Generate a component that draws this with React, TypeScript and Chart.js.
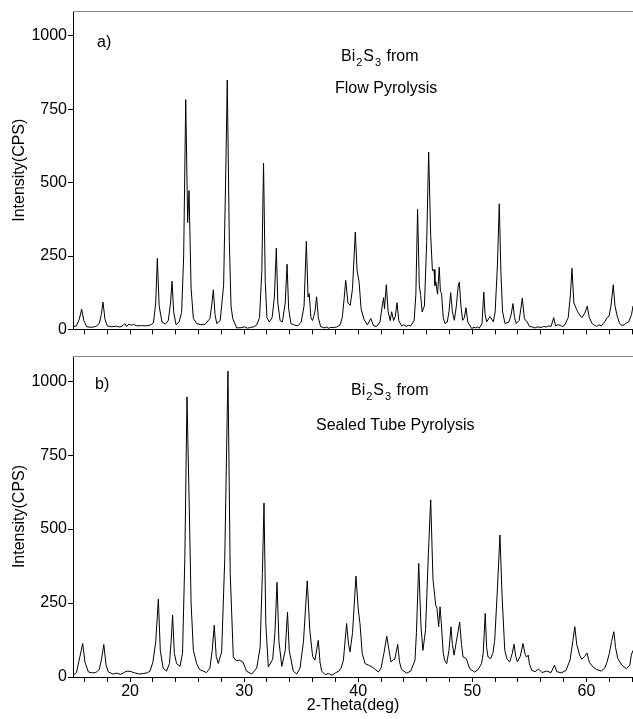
import React, { useEffect, useRef } from 'react';
import { Chart, registerables } from 'chart.js';

Chart.register(...registerables);

// ---------- data ----------
const X_MIN = 15;
const X_MAX = 64.08;
const Y_MAX = 1085;
const xTickValues = [16, 18, 20, 22, 24, 26, 28, 30, 32, 34, 36, 38, 40, 42, 44, 46, 48, 50, 52, 54, 56, 58, 60, 62, 64];
const xLabelledTicks = [20, 30, 40, 50, 60];
const yTickValues = [0, 250, 500, 750, 1000];

// a) Flow pyrolysis
const flowTheta = [
  15.0, 15.3, 15.55, 15.76, 15.95, 16.2, 16.6, 17.0, 17.3, 17.48, 17.63, 17.8, 18.0, 18.4, 18.8, 19.1, 19.4, 19.55, 19.7, 19.9,
  20.1, 20.3, 20.6, 21.0, 21.4, 21.8, 22.05, 22.25, 22.39, 22.55, 22.8, 23.1, 23.35, 23.55, 23.68, 23.82, 24.03, 24.3, 24.52, 24.7,
  24.88, 25.05, 25.17, 25.35, 25.55, 25.84, 26.2, 26.6, 27.0, 27.15, 27.3, 27.45, 27.6, 27.9, 28.2, 28.4, 28.52, 28.7, 28.85, 29.0,
  29.35, 29.8, 30.05, 30.3, 30.55, 30.8, 31.1, 31.35, 31.55, 31.7, 31.85, 32.0, 32.2, 32.45, 32.65, 32.82, 32.95, 33.15, 33.35, 33.6,
  33.76, 33.9, 34.1, 34.4, 34.7, 35.0, 35.25, 35.45, 35.6, 35.7, 35.85, 36.0, 36.2, 36.35, 36.5, 36.7, 37.0, 37.2, 37.4, 37.6,
  37.8, 38.1, 38.4, 38.6, 38.75, 38.9, 39.1, 39.3, 39.5, 39.74, 39.9, 40.07, 40.25, 40.5, 40.8, 41.1, 41.35, 41.6, 41.9, 42.1,
  42.22, 42.3, 42.46, 42.62, 42.8, 42.93, 43.1, 43.25, 43.4, 43.55, 43.8, 44.0, 44.2, 44.4, 44.6, 44.9, 45.05, 45.2, 45.35, 45.47,
  45.6, 45.8, 46.0, 46.17, 46.35, 46.5, 46.64, 46.72, 46.8, 46.95, 47.1, 47.2, 47.3, 47.45, 47.6, 47.8, 47.95, 48.1, 48.25, 48.42,
  48.6, 48.75, 48.86, 49.0, 49.15, 49.3, 49.44, 49.6, 49.94, 50.15, 50.3, 50.45, 50.6, 50.85, 51.0, 51.12, 51.26, 51.55, 51.84, 52.0,
  52.2, 52.36, 52.5, 52.65, 52.86, 53.2, 53.4, 53.56, 53.7, 53.85, 54.1, 54.25, 54.38, 54.55, 54.65, 54.8, 55.0, 55.3, 55.5, 55.75,
  56.0, 56.25, 56.5, 56.7, 56.9, 57.13, 57.3, 57.5, 57.7, 57.9, 58.1, 58.4, 58.6, 58.73, 58.9, 59.14, 59.3, 59.6, 59.85, 60.07,
  60.25, 60.5, 60.7, 60.9, 61.1, 61.3, 61.6, 61.8, 61.98, 62.15, 62.35, 62.5, 62.7, 62.9, 63.1, 63.3, 63.5, 63.7, 63.95, 64.08,
];
const flowCps = [
  9, 12, 35, 69, 30, 9, 7, 10, 20, 50, 93, 35, 12, 9, 11, 8, 14, 20, 10, 18,
  14, 17, 12, 13, 12, 15, 22, 90, 242, 80, 25, 18, 30, 90, 164, 60, 16, 25, 58, 250,
  783, 364, 473, 140, 37, 20, 16, 18, 37, 80, 135, 50, 20, 30, 150, 560, 850, 300, 80, 37,
  5, 6, 9, 4, 7, 8, 15, 40, 200, 567, 160, 40, 25, 40, 110, 277, 90, 30, 25, 90,
  222, 70, 20, 15, 12, 25, 80, 300, 110, 122, 40, 30, 60, 111, 40, 10, 5, 8, 4, 7,
  6, 8, 15, 40, 100, 167, 90, 82, 140, 332, 200, 163, 70, 35, 15, 37, 12, 10, 25, 80,
  108, 70, 152, 60, 30, 60, 30, 45, 91, 30, 12, 16, 10, 14, 12, 30, 120, 409, 150, 116,
  60, 80, 300, 604, 320, 200, 204, 150, 162, 120, 212, 130, 122, 40, 20, 25, 60, 125, 60, 31,
  80, 145, 161, 80, 31, 40, 74, 25, 3, 7, 5, 8, 4, 20, 127, 50, 26, 44, 26, 60,
  220, 428, 200, 60, 20, 25, 50, 88, 40, 20, 30, 70, 107, 40, 31, 26, 10, 8, 5, 9,
  6, 10, 8, 12, 10, 40, 12, 16, 14, 10, 15, 40, 120, 208, 90, 68, 55, 40, 55, 79,
  40, 20, 14, 10, 16, 12, 26, 40, 45, 80, 152, 80, 45, 20, 14, 15, 22, 26, 50, 80,
];

// b) Sealed tube pyrolysis
const sealedTheta = [
  15.0, 15.3, 15.6, 15.85, 16.05, 16.35, 16.7, 17.0, 17.3, 17.5, 17.7, 17.9, 18.1, 18.5, 18.8, 19.2, 19.5, 19.8, 20.1, 20.4,
  20.8, 21.2, 21.5, 21.75, 22.0, 22.25, 22.48, 22.65, 22.9, 23.2, 23.45, 23.6, 23.73, 23.88, 24.08, 24.38, 24.6, 24.8, 24.99, 25.19,
  25.35, 25.55, 25.84, 26.1, 26.4, 26.7, 27.0, 27.2, 27.38, 27.55, 27.73, 28.03, 28.3, 28.58, 28.78, 29.05, 29.3, 29.6, 29.9, 30.2,
  30.66, 31.1, 31.4, 31.6, 31.74, 31.9, 32.12, 32.5, 32.7, 32.88, 33.05, 33.3, 33.6, 33.8, 33.95, 34.3, 34.6, 34.9, 35.2, 35.53,
  35.75, 36.0, 36.2, 36.5, 36.65, 36.79, 37.1, 37.4, 37.7, 38.0, 38.3, 38.5, 38.7, 38.98, 39.15, 39.28, 39.5, 39.8, 40.0, 40.15,
  40.35, 40.6, 40.9, 41.2, 41.5, 41.76, 42.0, 42.25, 42.5, 42.7, 42.87, 43.05, 43.2, 43.46, 43.62, 43.8, 44.24, 44.6, 44.97, 45.1,
  45.3, 45.5, 45.67, 45.9, 46.15, 46.35, 46.55, 46.79, 46.9, 47.05, 47.17, 47.28, 47.45, 47.57, 47.75, 47.95, 48.13, 48.25, 48.4, 48.6,
  48.89, 49.05, 49.18, 49.35, 49.47, 49.77, 50.2, 50.5, 50.8, 50.95, 51.13, 51.25, 51.37, 51.6, 51.8, 51.96, 52.2, 52.42, 52.6, 52.84,
  53.05, 53.27, 53.5, 53.65, 53.8, 53.95, 54.2, 54.44, 54.6, 54.75, 54.9, 55.0, 55.2, 55.5, 55.8, 56.1, 56.5, 56.9, 57.2, 57.4,
  57.8, 58.2, 58.56, 58.8, 58.98, 59.15, 59.4, 59.6, 59.85, 60.05, 60.25, 60.57, 60.9, 61.3, 61.6, 61.8, 62.0, 62.2, 62.4, 62.55,
  62.75, 63.1, 63.5, 63.8, 63.93, 64.08,
];
const sealedCps = [
  6, 15, 68, 113, 50, 17, 14, 15, 25, 60, 110, 40, 17, 10, 13, 9, 16, 20, 18, 14,
  10, 12, 14, 20, 50, 118, 263, 90, 30, 20, 45, 120, 209, 80, 45, 36, 80, 400, 947, 571,
  250, 90, 45, 25, 20, 15, 30, 90, 175, 70, 46, 85, 400, 1034, 350, 68, 55, 57, 50, 20,
  10, 30, 100, 350, 588, 180, 34, 60, 150, 320, 120, 36, 90, 219, 90, 20, 10, 30, 120, 325,
  160, 70, 57, 124, 50, 20, 8, 12, 6, 14, 20, 30, 57, 181, 110, 85, 150, 341, 230, 181,
  80, 45, 40, 34, 25, 17, 30, 80, 138, 90, 51, 58, 60, 110, 50, 25, 13, 20, 56, 150,
  384, 170, 90, 160, 420, 599, 330, 243, 232, 170, 237, 181, 80, 57, 45, 90, 170, 110, 74, 120,
  186, 110, 68, 65, 62, 28, 17, 25, 45, 79, 215, 100, 68, 62, 80, 124, 300, 480, 280, 90,
  60, 51, 80, 111, 70, 51, 70, 113, 80, 67, 74, 45, 23, 18, 27, 15, 20, 15, 40, 18,
  14, 22, 57, 120, 170, 110, 74, 60, 70, 81, 50, 34, 25, 20, 30, 50, 79, 120, 153, 100,
  62, 40, 28, 40, 74, 90,
];

// ---------- drawing ----------
const FONT_FAMILY = '"Liberation Sans", Arial, Helvetica, sans-serif';

type TextItem = { parts: { t: string; sub?: boolean }[]; x: number; y: number };

function makeTextPlugin(items: TextItem[]) {
  return {
    id: 'panelText',
    afterDraw(chart: any) {
      const ctx = chart.ctx as CanvasRenderingContext2D;
      const area = chart.chartArea;
      ctx.save();
      // top frame line
      ctx.strokeStyle = '#8a8a8a';
      ctx.lineWidth = 1;
      ctx.beginPath();
      ctx.moveTo(area.left, Math.round(area.top) + 0.5);
      ctx.lineTo(chart.width, Math.round(area.top) + 0.5);
      ctx.stroke();
      ctx.fillStyle = '#000';
      ctx.textBaseline = 'alphabetic';
      ctx.textAlign = 'left';
      for (const it of items) {
        let x = it.x;
        for (const p of it.parts) {
          if (p.sub) {
            ctx.font = `11px ${FONT_FAMILY}`;
            x += 1;
            ctx.fillText(p.t, x, it.y + 5);
            x += ctx.measureText(p.t).width + 1;
          } else {
            ctx.font = `16px ${FONT_FAMILY}`;
            ctx.fillText(p.t, x, it.y);
            x += ctx.measureText(p.t).width;
          }
        }
      }
      ctx.restore();
    },
  };
}

function makeConfig(theta: number[], cps: number[], bottom: boolean, items: TextItem[]): any {
  const pts = theta.map((t, i) => ({ x: t, y: cps[i] }));
  return {
    type: 'line',
    data: {
      datasets: [
        {
          data: pts,
          borderColor: '#000',
          borderWidth: 1,
          pointRadius: 0,
          tension: 0,
          fill: false,
        },
      ],
    },
    options: {
      animation: false,
      responsive: false,
      maintainAspectRatio: false,
      events: [],
      layout: { padding: { top: bottom ? 16 : 11, left: 0, right: 0, bottom: 0 } },
      plugins: { legend: { display: false }, tooltip: { enabled: false }, title: { display: false } },
      scales: {
        x: {
          type: 'linear',
          min: X_MIN,
          max: X_MAX,
          afterBuildTicks: (scale: any) => {
            scale.ticks = xTickValues.map((v) => ({ value: v }));
          },
          afterFit: (scale: any) => {
            scale.height = bottom ? 42 : 9;
          },
          border: { display: true, color: '#000', width: 1 },
          grid: { drawOnChartArea: false, drawTicks: true, tickLength: 5, color: '#000' },
          ticks: {
            autoSkip: false,
            maxRotation: 0,
            padding: 0,
            color: '#000',
            font: { family: FONT_FAMILY, size: 16 },
            callback: (v: number) => (bottom && xLabelledTicks.includes(v) ? String(v) : ''),
          },
          title: {
            display: bottom,
            text: '2-Theta(deg)',
            color: '#000',
            font: { family: FONT_FAMILY, size: 16 },
            padding: { top: 0, bottom: 4 },
          },
        },
        y: {
          type: 'linear',
          min: 0,
          max: Y_MAX,
          afterBuildTicks: (scale: any) => {
            scale.ticks = yTickValues.map((v) => ({ value: v }));
          },
          afterFit: (scale: any) => {
            scale.width = 73;
          },
          border: { display: true, color: '#000', width: 1 },
          grid: { drawOnChartArea: false, drawTicks: true, tickLength: 5, color: '#000' },
          ticks: {
            padding: 1,
            color: '#000',
            font: { family: FONT_FAMILY, size: 16 },
            callback: (v: number) => String(v),
          },
          title: {
            display: true,
            text: 'Intensity(CPS)',
            color: '#000',
            font: { family: FONT_FAMILY, size: 16 },
            padding: { top: 10, bottom: 0 },
          },
        },
      },
    },
    plugins: [makeTextPlugin(items)],
  };
}

const topTexts: TextItem[] = [
  { parts: [{ t: 'a)' }], x: 97, y: 47 },
  { parts: [{ t: 'Bi' }, { t: '2', sub: true }, { t: 'S' }, { t: '3', sub: true }, { t: ' from' }], x: 341, y: 61 },
  { parts: [{ t: 'Flow Pyrolysis' }], x: 335, y: 93 },
];
const bottomTexts: TextItem[] = [
  { parts: [{ t: 'b)' }], x: 95, y: 49 },
  { parts: [{ t: 'Bi' }, { t: '2', sub: true }, { t: 'S' }, { t: '3', sub: true }, { t: ' from' }], x: 351, y: 55 },
  { parts: [{ t: 'Sealed Tube Pyrolysis' }], x: 316, y: 90 },
];

export default function App() {
  const topRef = useRef<HTMLCanvasElement | null>(null);
  const botRef = useRef<HTMLCanvasElement | null>(null);

  useEffect(() => {
    if (!topRef.current || !botRef.current) return;
    const c1 = new Chart(topRef.current, makeConfig(flowTheta, flowCps, false, topTexts));
    const c2 = new Chart(botRef.current, makeConfig(sealedTheta, sealedCps, true, bottomTexts));
    return () => {
      c1.destroy();
      c2.destroy();
    };
  }, []);

  return (
    <div style={{ position: 'absolute', left: 0, top: 0, width: 633, height: 719, background: '#fff', overflow: 'hidden' }}>
      <canvas ref={topRef} width={633} height={340} style={{ position: 'absolute', left: 0, top: 0, width: 633, height: 340 }} />
      <canvas ref={botRef} width={633} height={379} style={{ position: 'absolute', left: 0, top: 340, width: 633, height: 379 }} />
    </div>
  );
}
